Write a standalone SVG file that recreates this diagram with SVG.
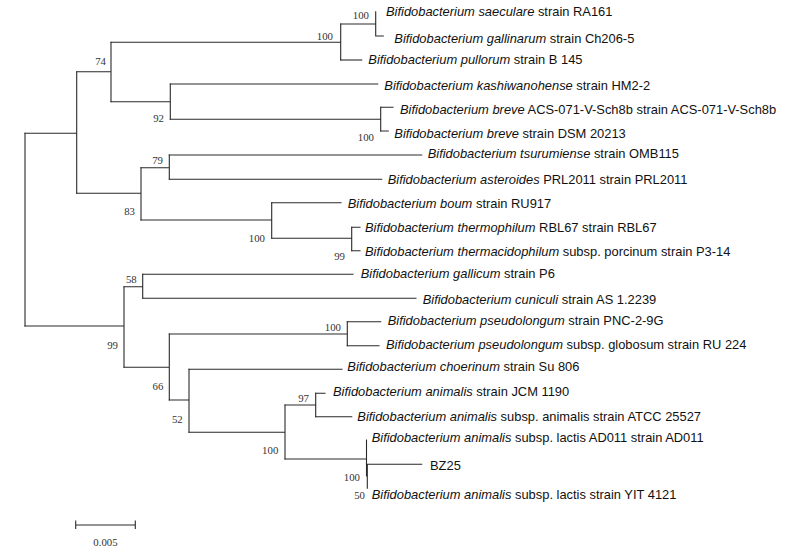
<svg xmlns="http://www.w3.org/2000/svg" width="788" height="558" viewBox="0 0 788 558">
<style>
.br{stroke:#2a2a2a;stroke-width:1.1;fill:none;stroke-linecap:square}
.lf{font-family:"Liberation Sans",Arial,sans-serif;font-size:12.9px;fill:#111}
.lf .sp{font-style:italic}
.bs{font-family:"Liberation Serif","Times New Roman",serif;font-size:10.8px;fill:#333;text-anchor:end}
.sc{font-family:"Liberation Serif","Times New Roman",serif;font-size:10.8px;fill:#333;text-anchor:middle}
</style>
<rect width="788" height="558" fill="#fff"/>
<g id="connectors" class="br">
<path d="M25,133.3V326"/>
<path d="M25,133.3H76.7M76.7,71.7V193.3"/>
<path d="M76.7,71.7H111M111,42.3V101.7"/>
<path d="M111,42.3H340.7M340.7,24V60"/>
<path d="M340.7,24H375.7M375.7,11.7V36H383.3"/>
<path d="M340.7,60H361.7"/>
<path d="M111,101.7H170.3M170.3,84V119.3"/>
<path d="M170.3,84H377.7"/>
<path d="M170.3,119.3H380.7M380.7,107.3V131"/>
<path d="M380.7,107.3H393M380.7,131H388.3"/>
<path d="M76.7,193.3H141M141,167.7V220"/>
<path d="M141,167.7H169.3M169.3,155V179.3"/>
<path d="M169.3,155H421.7M169.3,179.3H381.7"/>
<path d="M141,220H271.7M271.7,202.7V238.3"/>
<path d="M271.7,202.7H341"/>
<path d="M271.7,238.3H351.7M351.7,227.3V250.7"/>
<path d="M351.7,227.3H360M351.7,250.7H360"/>
<path d="M25,326H124M124,286.7V367.3"/>
<path d="M124,286.7H142.7M142.7,274.3V298.3"/>
<path d="M142.7,274.3H353M142.7,298.3H416"/>
<path d="M124,367.3H169.3M169.3,334V400"/>
<path d="M169.3,334H347.3M347.3,321.7V345.7"/>
<path d="M347.3,321.7H380.7M347.3,345.7H379"/>
<path d="M169.3,400H189M189,369.3V432.3"/>
<path d="M189,369.3H342"/>
<path d="M189,432.3H285M285,405V459"/>
<path d="M285,405H315.7M315.7,393.3V416.7"/>
<path d="M315.7,393.3H325M315.7,416.7H351.7"/>
<path d="M285,459H366.5M366.5,440V476"/>
<path d="M367.3,464.3V488.3M367.3,464.3H421.7"/>
</g>
<g id="n-100a"><text class="bs" x="369" y="18.8">100</text></g>
<g id="n-100b"><text class="bs" x="333" y="39.5">100</text></g>
<g id="n-74"><text class="bs" x="106" y="65.2">74</text></g>
<g id="n-92"><text class="bs" x="164" y="121.5">92</text></g>
<g id="n-100c"><text class="bs" x="374" y="140.5">100</text></g>
<g id="n-79"><text class="bs" x="163" y="163.5">79</text></g>
<g id="n-83"><text class="bs" x="135" y="215.2">83</text></g>
<g id="n-100d"><text class="bs" x="265" y="241.5">100</text></g>
<g id="n-99a"><text class="bs" x="345" y="259.5">99</text></g>
<g id="n-58"><text class="bs" x="136.7" y="282.8">58</text></g>
<g id="n-99b"><text class="bs" x="118" y="348.5">99</text></g>
<g id="n-100e"><text class="bs" x="341" y="331.2">100</text></g>
<g id="n-66"><text class="bs" x="163.3" y="389.5">66</text></g>
<g id="n-52"><text class="bs" x="182.7" y="422.8">52</text></g>
<g id="n-97"><text class="bs" x="309" y="401.8">97</text></g>
<g id="n-100f"><text class="bs" x="278.3" y="453.5">100</text></g>
<g id="n-100g"><text class="bs" x="360" y="480.5">100</text></g>
<g id="n-50"><text class="bs" x="365" y="498.8">50</text></g>
<g id="leaf-saeculare"><text class="lf" x="386" y="15.8"><tspan class="sp">Bifidobacterium saeculare</tspan> strain RA161</text></g>
<g id="leaf-gallinarum"><text class="lf" x="394.3" y="43.3"><tspan class="sp">Bifidobacterium gallinarum</tspan> strain Ch206-5</text></g>
<g id="leaf-pullorum"><text class="lf" x="368.3" y="63.5"><tspan class="sp">Bifidobacterium pullorum</tspan> strain B 145</text></g>
<g id="leaf-kashiwanohense"><text class="lf" x="384.3" y="90"><tspan class="sp">Bifidobacterium kashiwanohense</tspan> strain HM2-2</text></g>
<g id="leaf-breve-acs"><text class="lf" x="400" y="113.5"><tspan class="sp">Bifidobacterium breve</tspan> ACS-071-V-Sch8b strain ACS-071-V-Sch8b</text></g>
<g id="leaf-breve-dsm"><text class="lf" x="394.3" y="137.5"><tspan class="sp">Bifidobacterium breve</tspan> strain DSM 20213</text></g>
<g id="leaf-tsurumiense"><text class="lf" x="427.7" y="158"><tspan class="sp">Bifidobacterium tsurumiense</tspan> strain OMB115</text></g>
<g id="leaf-asteroides"><text class="lf" x="387.7" y="183.6"><tspan class="sp">Bifidobacterium asteroides</tspan> PRL2011 strain PRL2011</text></g>
<g id="leaf-boum"><text class="lf" x="347.7" y="208"><tspan class="sp">Bifidobacterium boum</tspan> strain RU917</text></g>
<g id="leaf-thermophilum"><text class="lf" x="365" y="232"><tspan class="sp">Bifidobacterium thermophilum</tspan> RBL67 strain RBL67</text></g>
<g id="leaf-thermacidophilum"><text class="lf" x="365" y="256"><tspan class="sp">Bifidobacterium thermacidophilum</tspan> subsp. porcinum strain P3-14</text></g>
<g id="leaf-gallicum"><text class="lf" x="360.7" y="277.5"><tspan class="sp">Bifidobacterium gallicum</tspan> strain P6</text></g>
<g id="leaf-cuniculi"><text class="lf" x="422.7" y="303.5"><tspan class="sp">Bifidobacterium cuniculi</tspan> strain AS 1.2239</text></g>
<g id="leaf-pseudolongum"><text class="lf" x="387.7" y="324.5"><tspan class="sp">Bifidobacterium pseudolongum</tspan> strain PNC-2-9G</text></g>
<g id="leaf-globosum"><text class="lf" x="386" y="348.8"><tspan class="sp">Bifidobacterium pseudolongum</tspan> subsp. globosum strain RU 224</text></g>
<g id="leaf-choerinum"><text class="lf" x="347.3" y="371"><tspan class="sp">Bifidobacterium choerinum</tspan> strain Su 806</text></g>
<g id="leaf-animalis-jcm"><text class="lf" x="333" y="395.8"><tspan class="sp">Bifidobacterium animalis</tspan> strain JCM 1190</text></g>
<g id="leaf-animalis-atcc"><text class="lf" x="357.3" y="421.3"><tspan class="sp">Bifidobacterium animalis</tspan> subsp. animalis strain ATCC 25527</text></g>
<g id="leaf-lactis-ad011"><text class="lf" x="371.7" y="442"><tspan class="sp">Bifidobacterium animalis</tspan> subsp. lactis AD011 strain AD011</text></g>
<g id="leaf-bz25"><text class="lf" x="430" y="469.5">BZ25</text></g>
<g id="leaf-lactis-yit"><text class="lf" x="371.7" y="498.6"><tspan class="sp">Bifidobacterium animalis</tspan> subsp. lactis strain YIT 4121</text></g>
<g id="scale-bar">
<path class="br" d="M75.7,525H135.3M75.7,521V528.5M135.3,521V528.5"/>
<text class="sc" x="105.5" y="546">0.005</text>
</g>
</svg>
